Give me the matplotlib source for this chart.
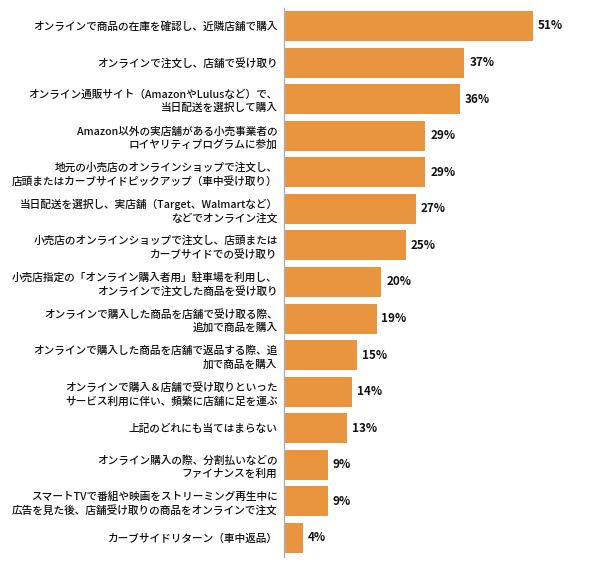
import matplotlib
matplotlib.use("Agg")
from matplotlib import pyplot as plt

plt.rcParams['font.family'] = ['Noto Sans CJK JP', 'DejaVu Sans']

labels = [
    "オンラインで商品の在庫を確認し、近隣店舗で購入",
    "オンラインで注文し、店舗で受け取り",
    "オンライン通販サイト（AmazonやLulusなど）で、\n当日配送を選択して購入",
    "Amazon以外の実店舗がある小売事業者の\nロイヤリティプログラムに参加",
    "地元の小売店のオンラインショップで注文し、\n店頭またはカーブサイドピックアップ（車中受け取り）",
    "当日配送を選択し、実店舗（Target、Walmartなど）\nなどでオンライン注文",
    "小売店のオンラインショップで注文し、店頭または\nカーブサイドでの受け取り",
    "小売店指定の「オンライン購入者用」駐車場を利用し、\nオンラインで注文した商品を受け取り",
    "オンラインで購入した商品を店舗で受け取る際、\n追加で商品を購入",
    "オンラインで購入した商品を店舗で返品する際、追\n加で商品を購入",
    "オンラインで購入＆店舗で受け取りといった\nサービス利用に伴い、頻繁に店舗に足を運ぶ",
    "上記のどれにも当てはまらない",
    "オンライン購入の際、分割払いなどの\nファイナンスを利用",
    "スマートTVで番組や映画をストリーミング再生中に\n広告を見た後、店舗受け取りの商品をオンラインで注文",
    "カーブサイドリターン（車中返品）",
]
values = [51, 37, 36, 29, 29, 27, 25, 20, 19, 15, 14, 13, 9, 9, 4]

bar_color = '#E9953F'

fig = plt.figure(figsize=(6, 5.65), dpi=100)
ax = fig.add_axes([0.473, 0.0142, 0.507, 0.9716])

pos = list(range(len(values)))
ax.barh(pos, values, height=0.82, color=bar_color)

# percentage labels just past the bar ends
for p, v in zip(pos, values):
    ax.text(v + 1.0, p, f"{v}%", va='center', ha='left',
            fontsize=8.4, fontweight='bold', color='#111111')

ax.set_xlim(0, 62.3)
ax.set_ylim(len(values) - 0.48, -0.49)
ax.set_yticks(pos)
ax.set_yticklabels(labels, fontsize=7.7, linespacing=1.35, ha='right',
                   fontweight='medium', color='#111111')
ax.tick_params(axis='y', length=0, pad=4.5)
ax.set_xticks([])

for side in ['top', 'right', 'bottom']:
    ax.spines[side].set_visible(False)
ax.spines['left'].set_color('#b0b0b0')
ax.spines['left'].set_linewidth(1.0)

fig.savefig('out.png', dpi=100)
